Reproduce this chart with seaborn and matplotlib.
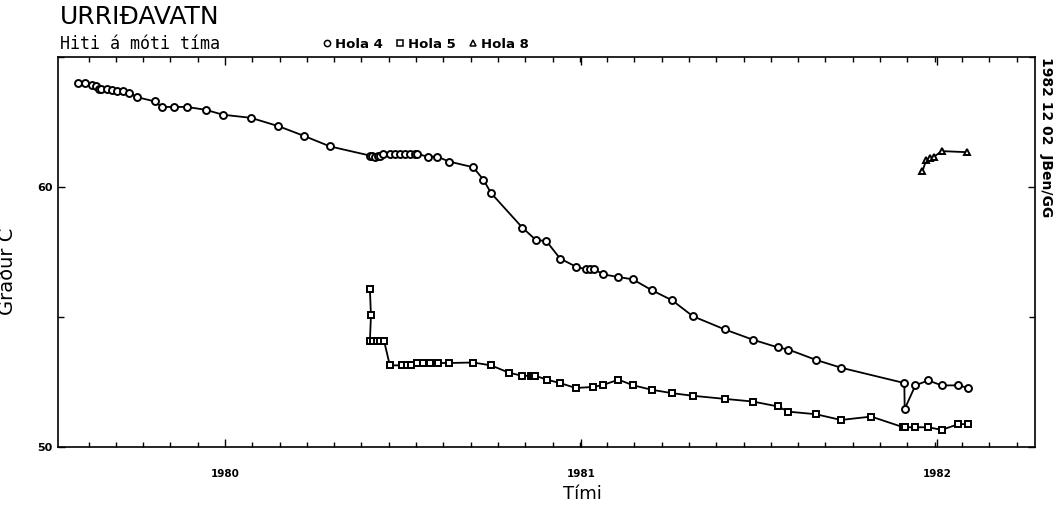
import numpy as np
import pandas as pd
import matplotlib
matplotlib.use("Agg")
import matplotlib.pyplot as plt
from matplotlib.lines import Line2D
import seaborn as sns

# ---------------- data (decimal years, degrees C) ----------------
hola4_t = [1979.588, 1979.607, 1979.626, 1979.638, 1979.646, 1979.652, 1979.668,
           1979.682, 1979.697, 1979.714, 1979.731, 1979.752, 1979.803, 1979.822,
           1979.858, 1979.892, 1979.946, 1979.994, 1980.073, 1980.150, 1980.223,
           1980.295, 1980.407, 1980.413, 1980.421, 1980.430, 1980.435, 1980.445,
           1980.463, 1980.478, 1980.492, 1980.506, 1980.520, 1980.534, 1980.540,
           1980.569, 1980.596, 1980.629, 1980.697, 1980.726, 1980.747, 1980.835,
           1980.874, 1980.902, 1980.941, 1980.985, 1981.014, 1981.025, 1981.037,
           1981.063, 1981.103, 1981.145, 1981.199, 1981.256, 1981.314, 1981.404,
           1981.482, 1981.553, 1981.582, 1981.660, 1981.730, 1981.908, 1981.909,
           1981.939, 1981.975, 1982.013, 1982.060, 1982.088]
hola4_v = [64.00, 64.00, 63.91, 63.87, 63.78, 63.78, 63.78,
           63.75, 63.68, 63.68, 63.62, 63.46, 63.29, 63.08,
           63.08, 63.08, 62.97, 62.78, 62.66, 62.34, 61.96,
           61.56, 61.21, 61.18, 61.15, 61.18, 61.20, 61.27,
           61.27, 61.27, 61.27, 61.27, 61.27, 61.27, 61.27,
           61.17, 61.17, 60.98, 60.76, 60.28, 59.77, 58.44,
           57.95, 57.93, 57.25, 56.94, 56.83, 56.83, 56.83,
           56.64, 56.54, 56.45, 56.03, 55.64, 55.03, 54.52,
           54.13, 53.83, 53.75, 53.35, 53.05, 52.46, 51.46,
           52.37, 52.56, 52.37, 52.37, 52.27]

hola5_t = [1980.407, 1980.410, 1980.407, 1980.416, 1980.427, 1980.435, 1980.447,
           1980.463, 1980.496, 1980.510, 1980.522, 1980.540, 1980.557, 1980.576,
           1980.599, 1980.629, 1980.697, 1980.747, 1980.799, 1980.835, 1980.860,
           1980.866, 1980.872, 1980.904, 1980.941, 1980.985, 1981.035, 1981.063,
           1981.105, 1981.147, 1981.199, 1981.256, 1981.314, 1981.404, 1981.482,
           1981.553, 1981.582, 1981.660, 1981.730, 1981.815, 1981.905, 1981.910,
           1981.939, 1981.975, 1982.013, 1982.060, 1982.088]
hola5_v = [56.06, 55.06, 54.07, 54.07, 54.07, 54.07, 54.07,
           53.14, 53.14, 53.14, 53.14, 53.23, 53.23, 53.23,
           53.23, 53.23, 53.25, 53.14, 52.85, 52.74, 52.74,
           52.72, 52.74, 52.59, 52.46, 52.27, 52.31, 52.39,
           52.59, 52.37, 52.20, 52.07, 51.97, 51.85, 51.75,
           51.56, 51.36, 51.26, 51.04, 51.17, 50.76, 50.76,
           50.76, 50.76, 50.66, 50.88, 50.88]

hola8_t = [1981.959, 1981.969, 1981.980, 1981.992, 1982.013, 1982.083]
hola8_v = [60.61, 61.02, 61.12, 61.17, 61.38, 61.34]

series_names = ["Hola 4", "Hola 5", "Hola 8"]
year_ticks = [1980, 1981, 1982]
year_labels = ["1980", "1981", "1982"]

# ---------------- figure ----------------
sns.set_style("ticks")
plt.rcParams["font.family"] = ["DejaVu Sans"]
for key in ["text.color", "axes.labelcolor", "xtick.color", "ytick.color", "axes.edgecolor"]:
    plt.rcParams[key] = "black"

L, R, T, B = 58, 1035, 57, 447
fig = plt.figure(figsize=(10.56, 5.07), dpi=100)
ax = fig.add_axes([L / 1056, 1 - B / 507, (R - L) / 1056, (B - T) / 507])

markers = ["o", "s", "^"]
datasets = [(hola4_t, hola4_v), (hola5_t, hola5_v), (hola8_t, hola8_v)]
for name, (t, v), m in zip(series_names, datasets, markers):
    df = pd.DataFrame({"t": t, "v": v})
    sns.lineplot(data=df, x="t", y="v", ax=ax, sort=False, estimator=None,
                 color="black", linewidth=1.3, marker=m, markersize=5,
                 markerfacecolor="white", markeredgecolor="black",
                 markeredgewidth=1.4, label=name, legend=False)

ax.set_xlim(1979.531, 1982.275)
ax.set_ylim(50, 65)

for sp in ax.spines.values():
    sp.set_visible(True)
    sp.set_linewidth(1.2)
    sp.set_color("black")

ax.set_xticks(year_ticks)
ax.set_xticklabels(year_labels, fontsize=7.5, fontweight="bold")
minor_x = [1980 + k * 28 / 365.25 for k in range(-5, 30)]
ax.set_xticks(minor_x, minor=True)
ax.set_yticks([50, 60])
ax.set_yticklabels(["50", "60"], fontsize=8, fontweight="bold")
ax.set_yticks([55, 65], minor=True)
ax.tick_params(axis="both", which="both", direction="in", top=True, right=True,
               color="black", width=1.0)
ax.tick_params(axis="x", which="major", length=6, pad=16)
ax.tick_params(axis="x", which="minor", length=3.5)
ax.tick_params(axis="y", which="major", length=5, pad=4)
ax.tick_params(axis="y", which="minor", length=4)

ax.set_xlabel("Tími", fontsize=13)
ax.set_ylabel("Gráður C", fontsize=14)
ax.yaxis.set_label_coords((17 - L) / (R - L), 1 - (271 - T) / (B - T))
ax.xaxis.set_label_coords((582 - L) / (R - L), -(494 - B) / (B - T))
ax.xaxis.label.set_va("center")
ax.yaxis.label.set_ha("center")

# titles
fig.text(60 / 1056, 1 - 17 / 507, "URRIÐAVATN", fontsize=18, ha="left", va="center")
fig.text(60 / 1056, 1 - 44 / 507, "Hiti á móti tíma", family="DejaVu Sans Mono",
         fontsize=12, ha="left", va="center")

handles = [Line2D([], [], linestyle="none", marker=m, markersize=4.5,
                  markerfacecolor="white", markeredgecolor="black", markeredgewidth=1.1)
           for m in markers]
fig.legend(handles, series_names, loc="center left", ncol=3, frameon=False,
           bbox_to_anchor=(318 / 1056, 1 - 44 / 507), handlelength=0.6,
           handletextpad=0.3, columnspacing=1.0,
           borderaxespad=0, prop={"size": 9.5, "weight": "bold"})

fig.text(1046 / 1056, 1 - 57 / 507, "1982 12 02  JBen/GG", rotation=270,
         fontsize=10, fontweight="bold", ha="center", va="top")

fig.savefig("out.png", dpi=100, facecolor="white")
